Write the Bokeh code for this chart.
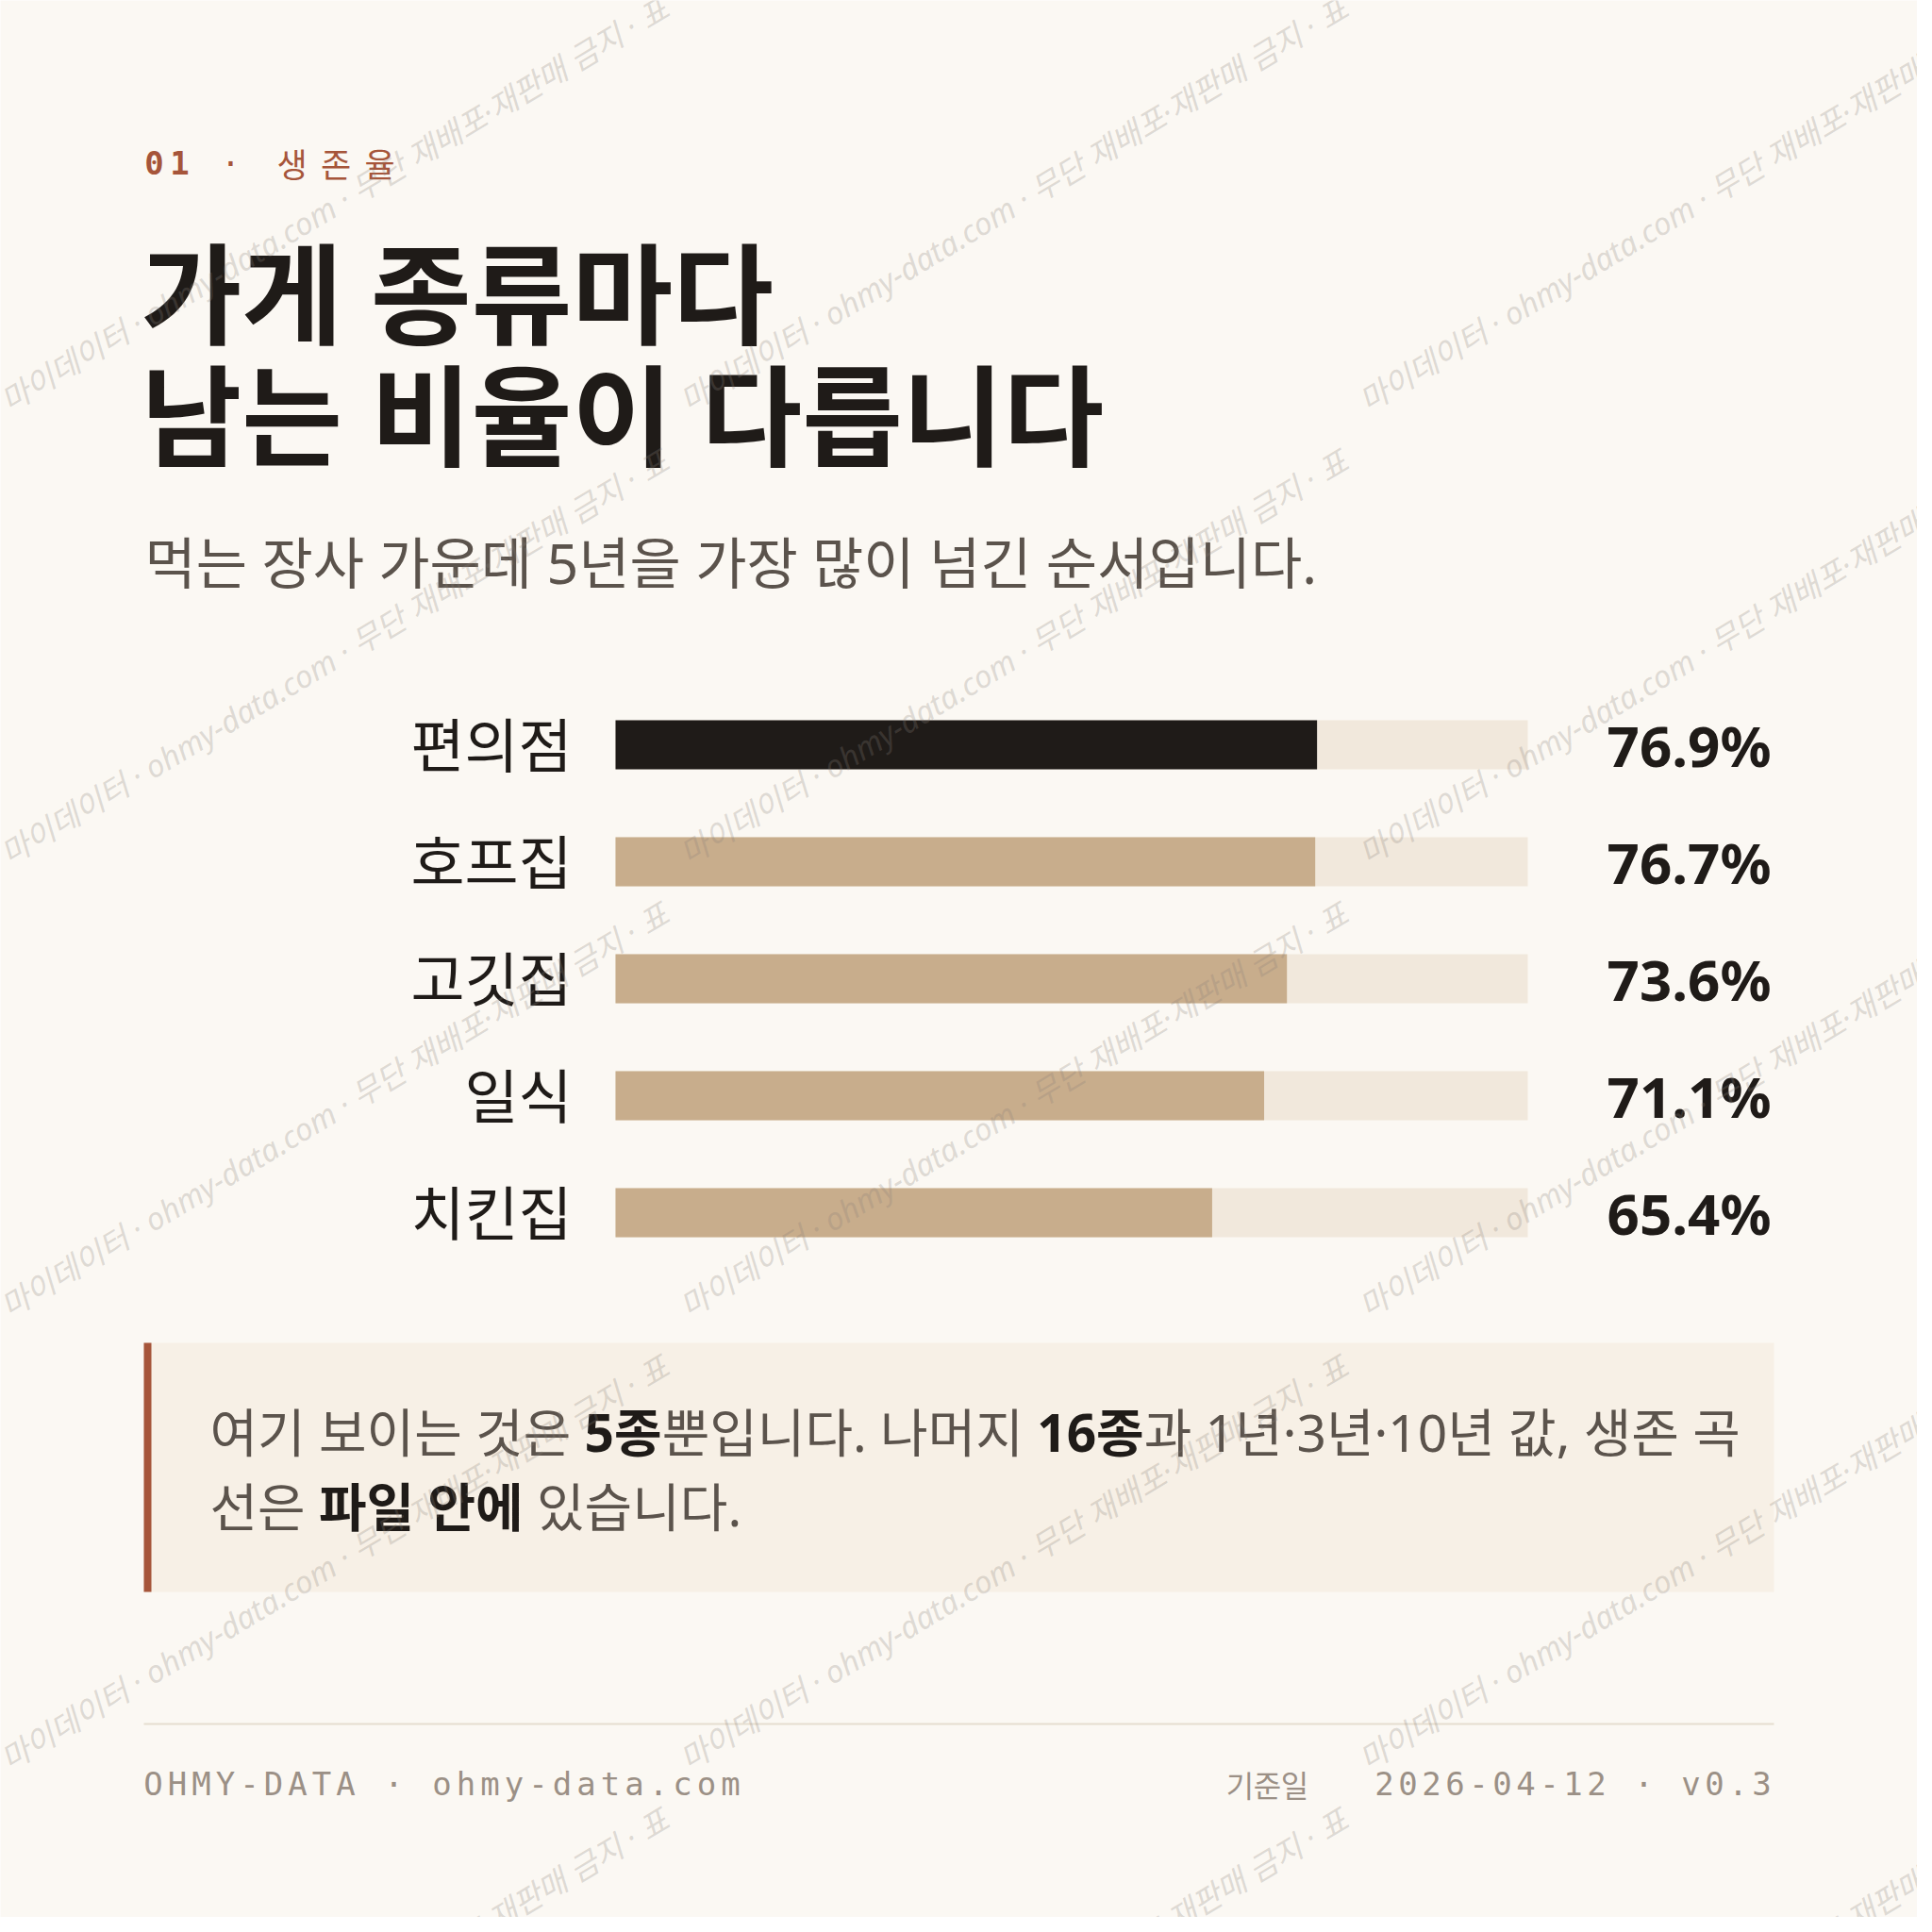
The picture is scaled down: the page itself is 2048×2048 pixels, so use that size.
import math
from bokeh.plotting import figure
from bokeh.models import Range1d
from bokeh.core.properties import value
from bokeh.embed import file_html
from bokeh.resources import INLINE

# --- data ---
categories = ["편의점", "호프집", "고깃집", "일식", "치킨집"]
survival_5y = [76.9, 76.7, 73.6, 71.1, 65.4]
highlight = "편의점"

kicker_num = "01"
kicker_word = "생존율"
title_lines = ["가게 종류마다", "남는 비율이 다릅니다"]
subtitle = "먹는 장사 가운데 5년을 가장 많이 넘긴 순서입니다."
note_lines = [
    [("여기 보이는 것은 ", False), ("5종", True), ("뿐입니다. 나머지 ", False),
     ("16종", True), ("과 1년·3년·10년 값, 생존 곡", False)],
    [("선은 ", False), ("파일 안에", True), (" 있습니다.", False)],
]
footer_left = "OHMY-DATA · ohmy-data.com"
footer_date_label = "기준일"
footer_right = "2026-04-12 · v0.3"
watermark = "마이데이터 · ohmy-data.com · 무단 재배포·재판매 금지 · 표"

# --- style ---
BG = "#fbf8f3"
INK = "#1f1b18"
MUTED = "#5b534c"
RUST = "#a6553a"
TAN = "#c8ad8c"
TRACK = "#f1e8dc"
NOTE_BG = "#f7f0e6"
FOOT = "#9b9086"
RULE = "#e6ddd0"
SANS = value("Noto Sans, Noto Sans CJK KR")
KR = value("Noto Sans CJK KR")
MONO = value("DejaVu Sans Mono")

W = 2048
M = 8
TRACK_X0, TRACK_X1 = 660, 1627
ROW_Y0, ROW_STEP, BAR_H = 797, 124, 52

p = figure(width=W - 2 * M, height=W - 2 * M,
           x_range=Range1d(M, W - M), y_range=Range1d(W - M, M),
           x_axis_type=None, y_axis_type=None,
           output_backend="svg", toolbar_location=None, min_border=0)
p.background_fill_color = BG
p.border_fill_color = BG
p.outline_line_color = None
p.grid.visible = False

# percent scale for the bars, row scale for categories
px_per_pct = (TRACK_X1 - TRACK_X0) / 100.0
p.extra_x_ranges = {"pct": Range1d((M - TRACK_X0) / px_per_pct, (W - M - TRACK_X0) / px_per_pct)}
p.extra_y_ranges = {"row": Range1d((W - M - ROW_Y0) / ROW_STEP, (M - ROW_Y0) / ROW_STEP)}


def adv(ch, size, bold=False):
    # rough advance widths: hangul from the CJK font, the rest from Noto Sans
    o = ord(ch)
    if 0xAC00 <= o <= 0xD7A3:
        return 0.92 * size
    if ch == " ":
        return 0.26 * size
    if ch in ".,·":
        return 0.268 * size
    if ch.isdigit():
        return 0.572 * size
    return 0.55 * size


def spaced(s, x0, pitch):
    xs, ts = [], []
    for i, ch in enumerate(s):
        if ch != " ":
            xs.append(x0 + i * pitch)
            ts.append(ch)
    return xs, ts


# kicker
xs, ts = spaced(kicker_num + " ·", 171, 27)
p.text(x=xs[:2], y=[180] * 2, text=ts[:2], text_font=MONO, text_font_size="34px",
       text_font_style="bold", text_color=RUST, text_align="center", text_baseline="middle")
p.text(x=xs[2:], y=[180], text=ts[2:], text_font=MONO, text_font_size="34px",
       text_color=RUST, text_align="center", text_baseline="middle")
xs, ts = spaced(kicker_word, 317, 46.5)
p.text(x=xs, y=[180] * len(xs), text=ts, text_font=KR, text_font_size="35px",
       text_color=RUST, text_align="center", text_baseline="middle")

# title + subtitle
p.text(x=[157, 157], y=[318, 447], text=title_lines, text_font=SANS, text_font_size="116px",
       text_font_style="bold", text_color=INK, text_baseline="middle")
p.text(x=[161], y=[603], text=[subtitle], text_font=SANS, text_font_size="59px",
       text_color=MUTED, text_baseline="middle")

# bars
rows = list(range(len(categories)))
bar_colors = [INK if c == highlight else TAN for c in categories]
h = BAR_H / ROW_STEP
p.hbar(y=rows, left=0, right=100, height=h, fill_color=TRACK, line_color=None,
       x_range_name="pct", y_range_name="row")
p.hbar(y=rows, left=0, right=survival_5y, height=h, fill_color=bar_colors, line_color=None,
       x_range_name="pct", y_range_name="row")
p.text(x=[0] * len(rows), y=rows, text=categories, x_offset=-46,
       text_font=SANS, text_font_size="62px", text_color=INK,
       text_align="right", text_baseline="middle", x_range_name="pct", y_range_name="row")
p.text(x=[100] * len(rows), y=rows, text=[f"{v:.1f}%" for v in survival_5y], x_offset=258,
       text_font=value("Noto Sans"), text_font_size="60px", text_font_style="bold",
       text_color=INK, text_align="right", text_baseline="middle",
       x_range_name="pct", y_range_name="row")

# note box
p.quad(left=[160], right=[1888], top=[1431], bottom=[1695], fill_color=NOTE_BG, line_color=None)
p.quad(left=[160], right=[168], top=[1431], bottom=[1695], fill_color=RUST, line_color=None)
NOTE_SIZE = 55
for line, y in zip(note_lines, [1525, 1604]):
    cursor = 230
    for run, bold in line:
        lead = len(run) - len(run.lstrip(" "))
        x = cursor + sum(adv(c, NOTE_SIZE, bold) for c in run[:lead])
        p.text(x=[x], y=[y], text=[run.strip(" ")], text_font=SANS,
               text_font_size=f"{NOTE_SIZE}px", text_font_style="bold" if bold else "normal",
               text_color=INK if bold else MUTED, text_baseline="middle")
        cursor += sum(adv(c, NOTE_SIZE, bold) for c in run)

# footer
p.segment(x0=[160], y0=[1835], x1=[1888], y1=[1835], line_color=RULE, line_width=2)
xs, ts = spaced(footer_left, 170, 25.5)
p.text(x=xs, y=[1898] * len(xs), text=ts, text_font=MONO, text_font_size="34px",
       text_color=FOOT, text_align="center", text_baseline="middle")
n = len(footer_right)
xs, ts = spaced(footer_right, 1885 - 10 - (n - 1) * 25, 25)
p.text(x=xs, y=[1898] * len(xs), text=ts, text_font=MONO, text_font_size="34px",
       text_color=FOOT, text_align="center", text_baseline="middle")
xs, ts = spaced(footer_date_label, 1322, 29)
p.text(x=xs, y=[1898] * len(xs), text=ts, text_font=KR, text_font_size="32px",
       text_color=FOOT, text_align="center", text_baseline="middle")

# watermark tiles
wx, wy = [], []
for i in range(3):
    for j in range(5):
        wx.append(362 + 720 * i)
        wy.append(224 + 480 * j)
p.text(x=wx, y=wy, text=[watermark] * len(wx), angle=math.radians(31),
       text_font=SANS, text_font_size="33px", text_font_style="italic",
       text_color="#8a8078", text_alpha=0.27, text_align="center", text_baseline="middle")

open("out.html", "w", encoding="utf-8").write(file_html(p, INLINE))
